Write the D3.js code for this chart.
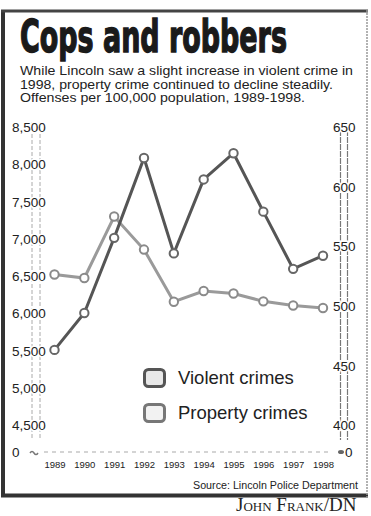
<!DOCTYPE html>
<html><head><meta charset="utf-8">
<script src="https://cdn.jsdelivr.net/npm/d3@7/dist/d3.min.js"></script>
<style>
html,body{margin:0;padding:0;background:#fff;}
svg{display:block;}
text{font-family:"Liberation Sans",Arial,sans-serif;fill:#222;}
</style></head>
<body>
<svg id="c" width="371" height="516"></svg>
<script>
const years = [1989,1990,1991,1992,1993,1994,1995,1996,1997,1998];
const violent = [463,494,557,624,544,606,628,579,531,542];
const property = [6520,6473,7298,6855,6155,6298,6265,6160,6104,6070];
const leftTicks = [4500,5000,5500,6000,6500,7000,7500,8000,8500];
const rightTicks = [400,450,500,550,600,650];
const subtitle = [
  "While Lincoln saw a slight increase in violent crime in",
  "1998, property crime continued to decline steadily.",
  "Offenses per 100,000 population, 1989-1998."
];

const svg = d3.select("#c");

// frame
svg.append("line").attr("x1",3).attr("x2",3).attr("y1",10).attr("y2",497).attr("stroke","#333").attr("stroke-width",4);
svg.append("line").attr("x1",1).attr("x2",368).attr("y1",11).attr("y2",11).attr("stroke","#444").attr("stroke-width",3);
svg.append("line").attr("x1",1).attr("x2",368).attr("y1",495.5).attr("y2",495.5).attr("stroke","#333").attr("stroke-width",4);
svg.append("line").attr("x1",367).attr("x2",367).attr("y1",10).attr("y2",497).attr("stroke","#999").attr("stroke-width",1.5).attr("stroke-dasharray","2,1");

// title (horizontally condensed via transform to fit)
const tg = svg.append("g");
const title = tg.append("text").attr("x",0).attr("y",0)
  .style("font-family",'"Liberation Sans Narrow","DejaVu Sans Condensed",sans-serif')
  .style("font-weight","bold").style("font-size","44px")
  .style("fill","#1a1a1a").style("stroke","#1a1a1a").style("stroke-width","1.4px")
  .text("Cops and robbers");
const tl = title.node().getComputedTextLength();
tg.attr("transform",`translate(20,52) scale(${267/tl},1)`);

const subW = [333,313,285];
svg.selectAll("text.sub").data(subtitle).join("text").attr("class","sub")
  .attr("x",20).attr("y",(d,i)=>75+i*13.5)
  .attr("textLength",(d,i)=>subW[i]).attr("lengthAdjust","spacingAndGlyphs")
  .style("font-size","13px").text(d=>d);

// scales
const x = d3.scalePoint().domain(years).range([54.5,323]);
const yL = d3.scaleLinear().domain([4500,8500]).range([425,127]);
const yR = d3.scaleLinear().domain([400,650]).range([425,127]);

// axis guide lines (double)
[32,40].forEach(px=>{
  svg.append("line").attr("x1",px).attr("x2",px).attr("y1",122).attr("y2",440)
    .attr("stroke","#aaa").attr("stroke-width",1).attr("stroke-dasharray","4,2");
});
[340.5,347.5].forEach(px=>{
  svg.append("line").attr("x1",px).attr("x2",px).attr("y1",130).attr("y2",440)
    .attr("stroke","#777").attr("stroke-width",1.2).attr("stroke-dasharray","6,1");
});

// left axis
const gl = svg.append("g").attr("transform","translate(12,0)")
  .call(d3.axisRight(yL).tickValues(leftTicks).tickSize(0).tickPadding(0).tickFormat(d3.format(",")));
gl.select(".domain").remove();
gl.selectAll("text").attr("dy","0.35em").style("font-size","13.5px")
  .style("font-family",'"Liberation Sans",Arial,sans-serif').attr("fill","#222")
  .style("paint-order","stroke").style("stroke","#fff").style("stroke-width","3px");

// right axis
const gr = svg.append("g").attr("transform","translate(333,0)")
  .call(d3.axisRight(yR).tickValues(rightTicks).tickSize(0).tickPadding(0));
gr.select(".domain").remove();
gr.selectAll("text").attr("dy","0.35em").style("font-size","13.5px")
  .style("font-family",'"Liberation Sans",Arial,sans-serif').attr("fill","#222")
  .style("paint-order","stroke").style("stroke","#fff").style("stroke-width","3px");

// zero baseline
svg.append("line").attr("x1",44).attr("x2",330).attr("y1",452).attr("y2",452)
  .attr("stroke","#aaa").attr("stroke-width",1.2).attr("stroke-dasharray","4,4");
svg.append("text").attr("x",12).attr("y",457).style("font-size","13.5px").text("0");
svg.append("text").attr("x",345).attr("y",457).style("font-size","13.5px").text("0");
svg.append("path").attr("d","M30,453 q2,-3 4,0 q2,3 4,0").attr("fill","none").attr("stroke","#777").attr("stroke-width",1.5);
svg.append("ellipse").attr("cx",341).attr("cy",452).attr("rx",3).attr("ry",2).attr("fill","#666");

// x axis
const gx = svg.append("g").attr("transform","translate(0,461)")
  .call(d3.axisBottom(x).tickSize(0).tickPadding(0));
gx.select(".domain").remove();
gx.selectAll("text").style("font-size","9.5px").attr("fill","#333")
  .style("font-family",'"Liberation Sans",Arial,sans-serif');

// lines
const lineP = d3.line().x((d,i)=>x(years[i])).y(d=>yL(d));
const lineV = d3.line().x((d,i)=>x(years[i])).y(d=>yR(d));

svg.append("path").datum(property).attr("d",lineP).attr("fill","none")
  .attr("stroke","#9a9a9a").attr("stroke-width",3);
svg.append("path").datum(violent).attr("d",lineV).attr("fill","none")
  .attr("stroke","#555").attr("stroke-width",3);

svg.selectAll("circle.p").data(property).join("circle").attr("class","p")
  .attr("cx",(d,i)=>x(years[i])).attr("cy",d=>yL(d)).attr("r",4.2)
  .attr("fill","#fff").attr("stroke","#8a8a8a").attr("stroke-width",2);
svg.selectAll("circle.v").data(violent).join("circle").attr("class","v")
  .attr("cx",(d,i)=>x(years[i])).attr("cy",d=>yR(d)).attr("r",4.2)
  .attr("fill","#fff").attr("stroke","#666").attr("stroke-width",2);

// legend
const legend = [
  {label:"Violent crimes", stroke:"#555", fill:"#e8e8e8"},
  {label:"Property crimes", stroke:"#777", fill:"#f2f2f2"}
];
const lg = svg.selectAll("g.lg").data(legend).join("g").attr("class","lg")
  .attr("transform",(d,i)=>`translate(143,${368+i*35})`);
lg.append("rect").attr("x",1.5).attr("y",1.5).attr("width",20).attr("height",17).attr("rx",4)
  .attr("fill",d=>d.fill).attr("stroke",d=>d.stroke).attr("stroke-width",3);
lg.append("text").attr("x",35).attr("y",16).style("font-size","18.5px").attr("fill","#222").text(d=>d.label);

// source
svg.append("text").attr("x",358).attr("y",489).attr("text-anchor","end")
  .attr("textLength",165).attr("lengthAdjust","spacingAndGlyphs")
  .style("font-size","10px").text("Source: Lincoln Police Department");

// credit
svg.append("text").attr("x",236).attr("y",511)
  .style("font-family",'"Liberation Serif","Times New Roman",serif')
  .style("font-variant","small-caps").style("font-size","19px").attr("fill","#222")
  .text("John Frank/DN");
</script>
</body></html>
